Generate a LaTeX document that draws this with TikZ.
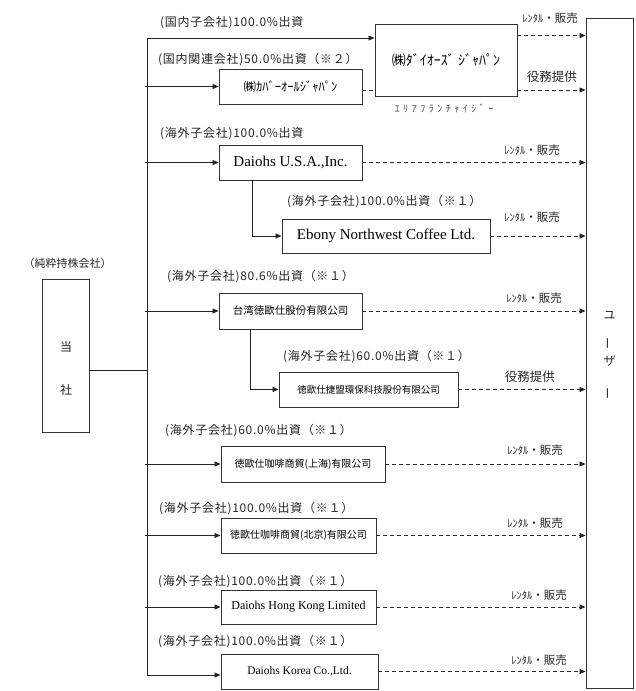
\documentclass[tikz,border=0pt]{standalone}
\usepackage{fontspec}
\setmainfont{Liberation Serif}
\newfontfamily\jp{Noto Sans CJK JP}
\usetikzlibrary{arrows.meta}
\tikzset{
  box/.style={draw=black!80, line width=0.9pt, fill=white, inner sep=0pt, align=center},
  conn/.style={draw=black!85, line width=0.8pt},
  arr/.style={conn, -{Triangle[length=6pt,width=5pt]}},
  darr/.style={conn, dash pattern=on 4pt off 3pt, -{Triangle[length=6pt,width=5pt]}},
  dline/.style={conn, dash pattern=on 4pt off 3pt},
  own/.style={anchor=west, inner sep=0pt, text=black!85, font=\jp\fontsize{12}{14}\selectfont\addfontfeature{LetterSpace=6}},
  svc/.style={anchor=east, inner sep=0pt, text=black!85},
  vch/.style={inner sep=0pt, text=black!85, font=\jp\fontsize{12}{14}\selectfont},
}
\newcommand{\rentlbl}{{\jp\fontsize{10.5}{12}\selectfont ﾚﾝﾀﾙ}{\jp\fontsize{11.5}{13}\selectfont ・販売}}
\newcommand{\ekimulbl}{{\jp\fontsize{12.5}{14}\selectfont 役務提供}}
\begin{document}
\begin{tikzpicture}[x=1pt,y=-1pt]
\useasboundingbox (0,0) rectangle (635,691);
\fill[white] (0,0) rectangle (635,691);

% holding company
\node[box, minimum width=47, minimum height=153] (hq) at (65.5,355.5) {};
\node[vch] (hqa) at (66,347) {当};
\node[vch] (hqb) at (66,390) {社};
\node[inner sep=0pt, text=black!85, font=\jp\fontsize{11}{13}\selectfont] (hql) at (67.5,263) {（純粋持株会社）};

% users
\node[box, minimum width=47, minimum height=670] (user) at (609.5,353) {};
\node[vch] (u1) at (609.5,315) {ユ};
\node[vch, rotate=90] (u2) at (609.5,343) {ー};
\node[vch] (u3) at (609.5,361) {ザ};
\node[vch, rotate=90] (u4) at (609.5,393) {ー};

% subsidiaries
\node[box, minimum width=142, minimum height=72, font=\jp\fontsize{14}{16}\selectfont] (dj) at (446,60) {㈱ﾀﾞｲｵｰｽﾞ ｼﾞｬﾊﾟﾝ};
\node[inner sep=0pt, text=black!70, font=\jp\fontsize{10}{12}\selectfont\addfontfeature{LetterSpace=35}] (djl) at (444,108) {ｴﾘｱﾌﾗﾝﾁｬｲｼﾞｰ};
\node[box, minimum width=143, minimum height=35, font=\jp\fontsize{12.5}{14}\selectfont] (ca) at (290.5,86.5) {㈱ｶﾊﾞｰｵｰﾙｼﾞｬﾊﾟﾝ};
\node[box, minimum width=143, minimum height=35, font=\fontsize{15}{17}\selectfont] (usa) at (290.5,162.5) {Daiohs U.S.A.,Inc.};
\node[box, minimum width=208, minimum height=34, font=\fontsize{15}{17}\selectfont] (ebony) at (386,236) {Ebony Northwest Coffee Ltd.};
\node[box, minimum width=143, minimum height=36, font=\jp\fontsize{10.5}{12}\selectfont] (tw) at (290.5,311) {台湾徳歐仕股份有限公司};
\node[box, minimum width=179, minimum height=35, font=\jp\fontsize{9.5}{11}\selectfont] (jm) at (368.5,389.5) {徳歐仕捷盟環保科技股份有限公司};
\node[box, minimum width=164, minimum height=36, font=\jp\fontsize{10}{12}\selectfont] (sh) at (303,464) {徳歐仕咖啡商貿(上海)有限公司};
\node[box, minimum width=155, minimum height=35, font=\jp\fontsize{10}{12}\selectfont] (bj) at (298.5,535.5) {徳歐仕咖啡商貿(北京)有限公司};
\node[box, minimum width=155, minimum height=34, font=\fontsize{12}{14}\selectfont] (hk) at (298.5,607) {Daiohs Hong Kong Limited};
\node[box, minimum width=157, minimum height=35, font=\fontsize{11.5}{13}\selectfont] (kr) at (299.5,671.5) {Daiohs Korea Co.,Ltd.};

% ownership labels
\node[own] (l1) at (160,23) {(国内子会社)100.0\%出資};
\node[own] (l2) at (158,60) {(国内関連会社)50.0\%出資（※２）};
\node[own] (l3) at (160,134) {(海外子会社)100.0\%出資};
\node[own] (l4) at (287,202) {(海外子会社)100.0\%出資（※１）};
\node[own] (l5) at (167,277) {(海外子会社)80.6\%出資（※１）};
\node[own] (l6) at (283,357) {(海外子会社)60.0\%出資（※１）};
\node[own] (l7) at (165,431) {(海外子会社)60.0\%出資（※１）};
\node[own] (l8) at (159,509) {(海外子会社)100.0\%出資（※１）};
\node[own] (l9) at (158,582) {(海外子会社)100.0\%出資（※１）};
\node[own] (l10) at (158,642) {(海外子会社)100.0\%出資（※１）};

% service labels
\node[svc] (s1) at (578,18) {\rentlbl};
\node[svc] (s2) at (577,77) {\ekimulbl};
\node[svc] (s3) at (560,150) {\rentlbl};
\node[svc] (s4) at (560,217) {\rentlbl};
\node[svc] (s5) at (562,298) {\rentlbl};
\node[svc] (s6) at (555,377) {\ekimulbl};
\node[svc] (s7) at (563,450) {\rentlbl};
\node[svc] (s8) at (563,523) {\rentlbl};
\node[svc] (s9) at (567,595) {\rentlbl};
\node[svc] (s10) at (567,660) {\rentlbl};

% trunk
\coordinate (ttop) at (147,38);
\coordinate (tbot) at (147,675);
\coordinate (tl) at (145,0);
\draw[conn] (ttop) -- (tbot);
\draw[conn] ([yshift=-14.5pt]hq.east) coordinate (hqc) -- (hqc -| ttop);
\draw[arr] (ttop) -- (ttop -| dj.west);
\draw[arr] (tl |- ca.west) -- (ca.west);
\draw[arr] (tl |- usa.west) -- (usa.west);
\draw[arr] (tl |- tw.west) -- (tw.west);
\draw[arr] (tl |- sh.west) -- (sh.west);
\draw[arr] (tl |- bj.west) -- (bj.west);
\draw[arr] (tl |- hk.west) -- (hk.west);
\draw[arr] (tbot) -- (tbot -| kr.west);
\draw[arr] ([xshift=-38.5pt]usa.south) |- (ebony.west);
\draw[arr] ([xshift=-40.5pt]tw.south) |- (jm.west);

% services
\draw[darr] ([yshift=-12pt]dj.north east) coordinate (d0) -- (d0 -| user.west);
\draw[dline] ([yshift=-3.5pt]ca.east) coordinate (d1) -- (d1 -| dj.west);
\draw[darr] (d1 -| dj.east) -- (d1 -| user.west);
\draw[darr] (usa.east) -- (usa.east -| user.west);
\draw[darr] (ebony.east) -- (ebony.east -| user.west);
\draw[darr] (tw.east) -- (tw.east -| user.west);
\draw[darr] (jm.east) -- (jm.east -| user.west);
\draw[darr] (sh.east) -- (sh.east -| user.west);
\draw[darr] (bj.east) -- (bj.east -| user.west);
\draw[darr] (hk.east) -- (hk.east -| user.west);
\draw[darr] (kr.east) -- (kr.east -| user.west);
\end{tikzpicture}
\end{document}
